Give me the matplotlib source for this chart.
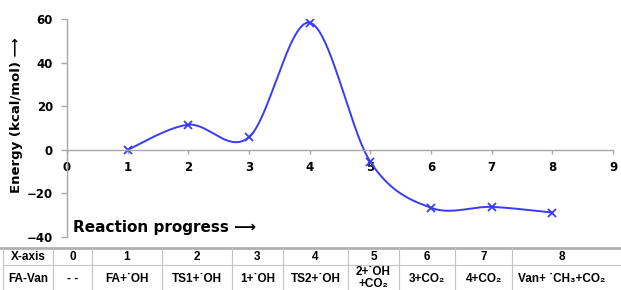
import numpy as np
import matplotlib
matplotlib.use("Agg")
import matplotlib.pyplot as plt
from matplotlib.lines import Line2D

plt.rcParams['font.family'] = ['DejaVu Sans']
plt.rcParams['font.weight'] = 'bold'
TABLE_FONT = ['Liberation Sans', 'DejaVu Sans']

# data
steps = [1, 2, 3, 4, 5, 6, 7, 8]
energy = [0.0, 11.5, 5.8, 58.3, -5.5, -26.6, -26.2, -28.8]

header = ['X-axis', '0', '1', '2', '3', '4', '5', '6', '7', '8']
species = ['FA-Van', '- -', 'FA+\u02d9OH', 'TS1+\u02d9OH', '1+\u02d9OH', 'TS2+\u02d9OH',
           '2+\u02d9OH\n+CO\u2082', '3+CO\u2082', '4+CO\u2082', 'Van+ \u02d9CH\u2083+CO\u2082']


def smooth(xs, ys, n=40):
    # excel-like smoothed line (catmull-rom as bezier)
    p = np.column_stack([xs, ys]).astype(float)
    p = np.vstack([p[0], p, p[-1]])
    out = []
    t = np.linspace(0, 1, n)[:, None]
    for i in range(1, len(p) - 2):
        p0, p1, p2, p3 = p[i - 1], p[i], p[i + 1], p[i + 2]
        c1 = p1 + (p2 - p0) / 6
        c2 = p2 - (p3 - p1) / 6
        seg = (1 - t) ** 3 * p1 + 3 * (1 - t) ** 2 * t * c1 + 3 * (1 - t) * t ** 2 * c2 + t ** 3 * p2
        out.append(seg)
    out = np.vstack(out)
    return out[:, 0], out[:, 1]


W, H = 621, 290
fig = plt.figure(figsize=(W / 100, H / 100), dpi=100)
ax = fig.add_axes([67 / W, 1 - 237 / H, (613 - 67) / W, (237 - 19) / H])

sx, sy = smooth(steps, energy)
ax.plot(sx, sy, color='#3a3aff', lw=1.4)
ax.plot(steps, energy, 'x', color='#3a3aff', ms=6, mew=1.3)

ax.set_xlim(0, 9)
ax.set_ylim(-40, 60)
ax.set_xticks(range(10))
ax.set_yticks([-40, -20, 0, 20, 40, 60])
for s in ['top', 'right']:
    ax.spines[s].set_visible(False)
ax.spines['bottom'].set_position(('data', 0))
for s in ['left', 'bottom']:
    ax.spines[s].set_color('#a8a8a8')
    ax.spines[s].set_linewidth(1.0)
ax.tick_params(axis='y', colors='#a8a8a8', length=4, width=1, pad=6, labelcolor='black', labelsize=8.5)
ax.tick_params(axis='x', colors='#a8a8a8', length=3, width=1, pad=5, labelcolor='black', labelsize=8.5)
for lb in ax.get_xticklabels() + ax.get_yticklabels():
    lb.set_fontweight('bold')

fig.text(17 / W, 1 - 115 / H, 'Energy (kcal/mol) \u27f6', rotation=90, ha='center', va='center',
         fontsize=9.5, fontweight='bold')
ax.text(0.1, -35.5, 'Reaction progress \u27f6', ha='left', va='center', fontsize=11, fontweight='bold')

# table at the bottom
cols = [3, 53, 92, 162, 232, 283, 348, 399, 455, 512, 630]
y_top, y_mid, y_bot = 248, 265, 300


def fx(px):
    return px / W


def fy(py):
    return 1 - py / H


fig.add_artist(Line2D([0, 1], [fy(y_top), fy(y_top)], transform=fig.transFigure, color='#b0b0b0', lw=2))
fig.add_artist(Line2D([fx(3), 1], [fy(y_mid), fy(y_mid)], transform=fig.transFigure, color='#c4c4c4', lw=0.8))
for c in cols[:-1]:
    fig.add_artist(Line2D([fx(c), fx(c)], [fy(y_top), fy(y_bot)], transform=fig.transFigure,
                          color='#c4c4c4', lw=0.8))
for i in range(len(header)):
    xc = fx((cols[i] + cols[i + 1]) / 2) if i < len(header) - 1 else fx((512 + 612) / 2)
    fig.text(xc, fy((y_top + y_mid) / 2), header[i], ha='center', va='center', fontsize=8.5,
             fontweight='bold', family=TABLE_FONT)
    if '\n' in species[i]:
        top, bot = species[i].split('\n')
        fig.text(xc, fy(272), top, ha='center', va='center', fontsize=8.5, fontweight='bold', family=TABLE_FONT)
        fig.text(xc, fy(284), bot, ha='center', va='center', fontsize=8.5, fontweight='bold', family=TABLE_FONT)
    else:
        fig.text(xc, fy(279), species[i], ha='center', va='center', fontsize=8.5, fontweight='bold',
                 family=TABLE_FONT)

plt.savefig('out.png', dpi=100)
